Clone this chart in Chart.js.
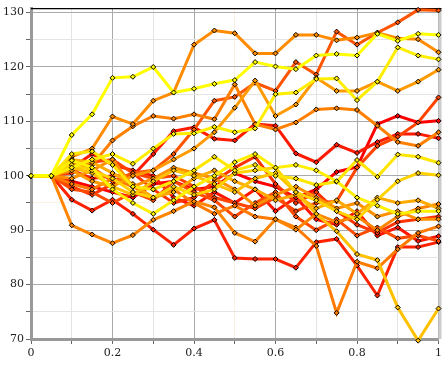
<!DOCTYPE html>
<html>
<head>
<meta charset="utf-8">
<script src="https://cdn.jsdelivr.net/npm/chart.js@4/dist/chart.umd.min.js"></script>
<style>
  html, body { margin: 0; padding: 0; background: #fff; }
</style>
</head>
<body>
<canvas id="walkChart" width="445" height="366"></canvas>
<script>
// x positions shared by every walk
const xValues = [0, 0.05, 0.1, 0.15, 0.2, 0.25, 0.3, 0.35, 0.4, 0.45, 0.5,
                 0.55, 0.6, 0.65, 0.7, 0.75, 0.8, 0.85, 0.9, 0.95, 1];

const yTickValues = [70, 80, 90, 100, 110, 120, 130];
const xTickLabels = ["0", "0.2", "0.4", "0.6", "0.8", "1"];

// walks
const walkRd = [100, 100, 95.6, 93.6, 95.6, 93.0, 90.1, 87.3, 90.3, 91.9, 84.9, 84.7, 84.7, 83.1, 87.8, 88.4, 83.5, 78.0, 86.9, 86.9, 87.8];
const walkRb = [100, 100, 99.0, 98.0, 97.0, 96.0, 98.5, 99.0, 97.5, 98.0, 100.5, 99.0, 98.0, 96.0, 97.5, 100.7, 101.6, 109.5, 111.0, 109.8, 110.1];
const walkC3 = [100, 100, 101.5, 104.0, 102.0, 101.0, 100.0, 96.0, 94.5, 97.0, 95.0, 97.5, 93.5, 96.0, 92.0, 91.0, 93.5, 89.0, 90.5, 88.0, 88.9];
const walkRa = [100, 100, 101.0, 99.5, 100.0, 100.0, 104.0, 108.2, 108.9, 106.8, 106.5, 109.5, 109.2, 104.1, 102.5, 105.7, 104.2, 106.2, 107.7, 107.7, 106.9];
const walkC2 = [100, 100, 98.0, 96.5, 98.5, 100.5, 97.5, 95.0, 96.0, 99.0, 101.5, 103.5, 98.5, 95.0, 97.0, 93.5, 91.0, 89.5, 91.5, 92.0, 92.5];
const walkRc = [100, 100, 100.5, 102.5, 103.0, 100.5, 99.5, 100.0, 98.0, 96.0, 95.0, 94.0, 96.0, 93.5, 95.0, 95.3, 101.5, 105.5, 107.2, 109.8, 114.4];
const walkC4 = [100, 100, 97.5, 97.0, 95.0, 97.0, 95.5, 99.0, 97.0, 95.5, 92.5, 95.0, 97.0, 92.5, 90.0, 92.0, 89.0, 90.5, 88.5, 89.0, 88.0];
const walkR1 = [100, 100, 102.5, 101.5, 99.0, 100.5, 101.0, 104.0, 108.5, 113.8, 114.5, 117.1, 115.6, 120.9, 118.6, 126.5, 124.1, 126.3, 128.2, 130.5, 130.4];
const walkOd = [100, 100, 98.5, 97.5, 99.5, 98.0, 96.0, 97.5, 95.0, 93.0, 94.5, 92.5, 92.0, 90.5, 87.1, 74.8, 84.2, 83.0, 86.5, 89.5, 90.7];
const walkO2 = [100, 100, 102.5, 102.0, 106.5, 109.1, 111.0, 110.5, 111.3, 110.4, 116.8, 109.5, 108.5, 109.8, 112.2, 112.4, 112.1, 109.2, 106.2, 105.5, 108.0];
const walkOf = [100, 100, 90.9, 89.2, 87.6, 89.1, 91.9, 93.5, 95.3, 94.2, 89.5, 87.9, 92.0, 90.1, 93.0, 91.5, 92.5, 90.0, 92.5, 94.0, 94.8];
const walkB  = [100, 100, 103.5, 105.0, 110.9, 109.5, 113.8, 115.3, 124.1, 126.7, 126.2, 122.5, 122.5, 125.9, 125.9, 124.9, 125.4, 126.3, 125.3, 125.1, 122.7];
const walkC6 = [100, 100, 99.5, 101.0, 103.0, 98.0, 99.5, 101.5, 100.5, 99.5, 97.5, 94.5, 96.5, 98.0, 96.0, 94.0, 95.0, 92.5, 93.5, 92.0, 92.0];
const walkO3 = [100, 100, 101.0, 99.0, 98.0, 100.0, 101.0, 103.0, 105.0, 108.0, 112.5, 117.5, 111.0, 113.1, 118.0, 115.6, 115.6, 117.3, 115.6, 117.3, 119.5];
const walkC1 = [100, 100, 103.0, 102.5, 100.5, 98.5, 96.0, 97.0, 99.5, 101.0, 99.0, 97.5, 95.5, 96.5, 94.0, 95.5, 93.0, 96.0, 95.0, 95.5, 94.0];
const walkYb = [100, 100, 101.5, 100.5, 98.0, 96.5, 99.0, 101.0, 100.0, 98.5, 97.0, 99.5, 100.5, 97.0, 93.0, 89.8, 85.6, 84.5, 75.8, 69.7, 75.6];
const walkY4 = [100, 100, 102.0, 101.0, 99.5, 97.0, 96.0, 98.0, 96.5, 97.5, 100.5, 101.0, 101.5, 97.0, 95.5, 93.5, 92.0, 95.6, 99.0, 100.5, 100.1];
const walkY3 = [100, 100, 104.0, 104.5, 102.0, 98.0, 97.5, 99.0, 101.0, 103.5, 101.0, 102.0, 100.0, 99.5, 98.3, 98.9, 102.9, 99.8, 103.9, 103.5, 102.4];
const walkC5 = [100, 100, 102.8, 101.5, 97.5, 95.0, 93.0, 95.5, 98.0, 100.0, 102.5, 104.0, 101.5, 102.0, 101.0, 99.0, 96.0, 94.5, 93.0, 93.5, 93.5];
const walkY2 = [100, 100, 101.5, 103.0, 104.0, 102.2, 105.0, 107.7, 107.8, 109.0, 108.0, 108.7, 115.0, 115.3, 117.8, 117.9, 113.9, 117.3, 123.6, 122.1, 121.4];
const walkA  = [100, 100, 107.5, 111.3, 118.0, 118.2, 120.0, 115.3, 116.0, 116.9, 117.6, 120.9, 120.1, 119.6, 122.1, 122.4, 122.1, 126.1, 124.8, 126.1, 125.9];

// Chart.js paints index 0 last, so the yellow walks come first here
const walks = [walkA, walkY2, walkC5, walkY3, walkY4, walkYb, walkC1, walkO3, walkC6, walkB, walkOf,
               walkO2, walkOd, walkR1, walkC4, walkRc, walkC2, walkRa, walkC3, walkRb, walkRd];
const walkColors = ["#ffff00", "#ffee00", "#fff000", "#ffe600", "#ffd200", "#ffc000", "#ffaa00",
                    "#ff9a00", "#ff9000", "#ff8c00", "#ff8400", "#ff8000", "#ff7a00", "#ff5500",
                    "#ff4a00", "#ff4400", "#ff3300", "#ff1a00", "#ff1500", "#ff0000", "#ff2200"];

const isMajorX = v => Math.round(v * 10) % 2 === 0;
const isMajorY = v => Math.round(v) % 10 === 0;

// top black rule and right grey edge around the plot
const frameLines = {
  id: "frameLines",
  beforeDatasetsDraw(chart) {
    const { ctx, chartArea: a } = chart;
    ctx.save();
    ctx.strokeStyle = "#cccccc";
    ctx.lineWidth = 3;
    ctx.beginPath();
    ctx.moveTo(a.right + 1.5, a.top);
    ctx.lineTo(a.right + 1.5, a.bottom);
    ctx.stroke();
    ctx.strokeStyle = "#000";
    ctx.lineWidth = 1.2;
    ctx.beginPath();
    ctx.moveTo(a.left, a.top);
    ctx.lineTo(a.right + 3, a.top);
    ctx.stroke();
    ctx.restore();
  }
};

const tickFont = { family: "DejaVu Serif", size: 11 };

new Chart(document.getElementById("walkChart"), {
  type: "line",
  data: {
    datasets: walks.map((w, i) => ({
      data: w.map((y, j) => ({ x: xValues[j], y: y })),
      borderColor: walkColors[i],
      backgroundColor: walkColors[i],
      borderWidth: 3,
      pointStyle: "rectRot",
      pointRadius: 2.5,
      pointBackgroundColor: walkColors[i],
      pointBorderColor: "#000",
      pointBorderWidth: 1,
      tension: 0,
      clip: false
    }))
  },
  options: {
    responsive: false,
    animation: false,
    devicePixelRatio: 1,
    layout: { padding: { top: 5, right: 4, left: 0, bottom: 0 } },
    plugins: {
      legend: { display: false },
      tooltip: { enabled: false }
    },
    scales: {
      x: {
        type: "linear",
        min: 0,
        max: 1,
        afterFit: s => { s.height = 27; },
        ticks: {
          stepSize: 0.1,
          includeBounds: false,
          autoSkip: false,
          maxRotation: 0,
          padding: 3,
          color: "#222",
          font: tickFont,
          callback: v => isMajorX(v) ? xTickLabels[Math.round(v * 5)] : ""
        },
        grid: {
          color: c => {
            const v = c.tick ? c.tick.value : 0;
            if (isMajorX(v)) return "#aaaaaa";
            return Math.abs(v - 0.5) < 1e-6 ? "#fbf0e2" : "#e4e4e4";
          },
          tickColor: "#666",
          tickLength: 5
        },
        border: { display: true, color: "#999", width: 3 }
      },
      y: {
        min: 70,
        max: 130.73,
        afterFit: s => { s.width = 31; },
        afterBuildTicks: s => {
          s.ticks = s.ticks.filter(t => t.value <= yTickValues[yTickValues.length - 1]);
        },
        ticks: {
          stepSize: 5,
          includeBounds: false,
          autoSkip: false,
          padding: 2,
          color: "#222",
          font: tickFont,
          callback: v => yTickValues.includes(v) ? String(v) : ""
        },
        grid: {
          color: c => {
            const v = c.tick ? c.tick.value : 0;
            if (isMajorY(v)) return "#aaaaaa";
            return v === 95 ? "#fbf0e2" : "#e4e4e4";
          },
          tickColor: "#666",
          tickLength: 5
        },
        border: { display: true, color: "#999", width: 3 }
      }
    }
  },
  plugins: [frameLines]
});
</script>
</body>
</html>
